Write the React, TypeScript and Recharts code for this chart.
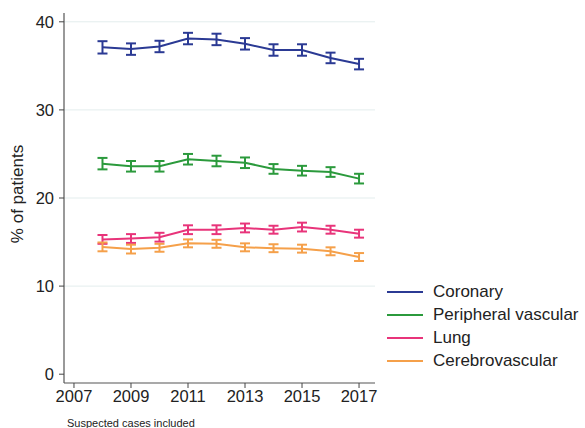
import React from "react";
import { LineChart, Line, XAxis, YAxis, ErrorBar, ReferenceLine } from "recharts";

const years = [2008, 2009, 2010, 2011, 2012, 2013, 2014, 2015, 2016, 2017];
const coronary = [37.1, 36.9, 37.2, 38.1, 38.0, 37.5, 36.8, 36.8, 35.9, 35.2];
const coronaryErr = [0.7, 0.65, 0.65, 0.65, 0.65, 0.65, 0.65, 0.65, 0.6, 0.6];
const peripheral = [23.9, 23.6, 23.6, 24.4, 24.2, 24.0, 23.3, 23.1, 22.95, 22.2];
const peripheralErr = [0.65, 0.6, 0.6, 0.6, 0.6, 0.6, 0.55, 0.55, 0.55, 0.55];
const lung = [15.3, 15.4, 15.55, 16.4, 16.4, 16.6, 16.4, 16.7, 16.4, 15.95];
const lungErr = [0.5, 0.5, 0.5, 0.5, 0.5, 0.5, 0.45, 0.5, 0.45, 0.45];
const cerebro = [14.45, 14.2, 14.35, 14.85, 14.8, 14.4, 14.3, 14.25, 13.95, 13.3];
const cerebroErr = [0.5, 0.5, 0.45, 0.45, 0.45, 0.45, 0.45, 0.45, 0.45, 0.45];

const yTicks = [0, 10, 20, 30, 40];
const xTicks = [2007, 2009, 2011, 2013, 2015, 2017];
const gridValues = [10, 20, 30, 40];

const seriesNames = ["Coronary", "Peripheral vascular", "Lung", "Cerebrovascular"];
const seriesKeys = ["cor", "per", "lung", "cer"];
const seriesColors = ["#2b3a94", "#2b9a3c", "#e8347a", "#f5a04a"];

const data = years.map((y, i) => ({
  year: y,
  cor: coronary[i],
  corErr: coronaryErr[i],
  per: peripheral[i],
  perErr: peripheralErr[i],
  lung: lung[i],
  lungErr: lungErr[i],
  cer: cerebro[i],
  cerErr: cerebroErr[i],
}));

const FONT = "'Liberation Sans', Arial, sans-serif";

export default function App() {
  return (
    <div style={{ position: "absolute", left: 0, top: 0, width: 585, height: 428, background: "#fff", overflow: "hidden" }}>
      <LineChart
        width={585}
        height={428}
        data={data}
        margin={{ top: 13, right: 210, bottom: 15, left: 0 }}
      >
        {gridValues.map((v) => (
          <ReferenceLine key={v} y={v} stroke="#e3eded" strokeWidth={1} />
        ))}
        <XAxis
          dataKey="year"
          type="number"
          domain={[2006.65, 2017.56]}
          ticks={xTicks}
          allowDataOverflow
          height={30}
          tickSize={5}
          tickMargin={2}
          stroke="#444"
          tick={{ fill: "#222", fontSize: 16.5, fontFamily: FONT }}
          axisLine={{ stroke: "#555", strokeWidth: 1.2 }}
        />
        <YAxis
          type="number"
          domain={[-1, 41]}
          ticks={yTicks}
          allowDataOverflow
          width={64}
          tickSize={5}
          tickMargin={5}
          stroke="#444"
          tick={{ fill: "#222", fontSize: 16.5, fontFamily: FONT }}
          axisLine={{ stroke: "#555", strokeWidth: 1.2 }}
        />
        {seriesKeys.map((k, i) => (
          <Line
            key={k}
            dataKey={k}
            name={seriesNames[i]}
            stroke={seriesColors[i]}
            strokeWidth={2}
            dot={false}
            activeDot={false}
            type="linear"
            isAnimationActive={false}
          >
            <ErrorBar
              dataKey={k + "Err"}
              direction="y"
              width={5}
              stroke={seriesColors[i]}
              strokeWidth={2}
              isAnimationActive={false}
            />
          </Line>
        ))}
      </LineChart>
      <div style={{ position: "absolute", left: 387, top: 280, fontFamily: FONT, fontSize: 17, color: "#222" }}>
        {seriesNames.map((n, i) => (
          <div key={n} style={{ display: "flex", alignItems: "center", height: 23 }}>
            <div style={{ width: 36, height: 2, background: seriesColors[i], marginRight: 10 }} />
            <span>{n}</span>
          </div>
        ))}
      </div>
      <div
        style={{
          position: "absolute",
          left: 18,
          top: 194,
          transform: "translate(-50%, -50%) rotate(-90deg)",
          fontFamily: FONT,
          fontSize: 17,
          color: "#222",
          whiteSpace: "nowrap",
        }}
      >
        % of patients
      </div>
      <div
        style={{
          position: "absolute",
          left: 67,
          top: 417,
          fontFamily: FONT,
          fontSize: 11,
          color: "#222",
          whiteSpace: "nowrap",
        }}
      >
        Suspected cases included
      </div>
    </div>
  );
}
